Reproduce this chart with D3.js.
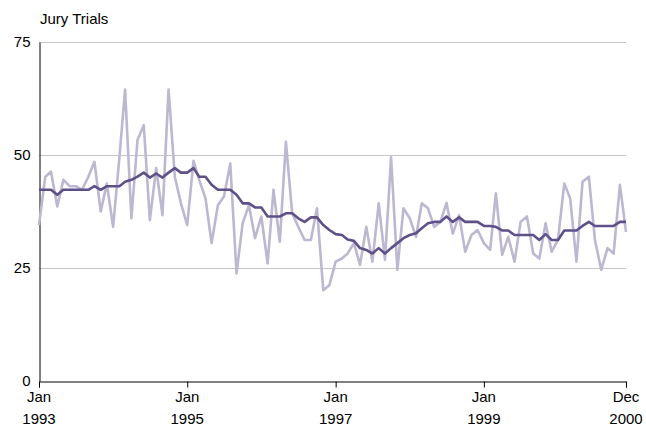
<!DOCTYPE html>
<html><head><meta charset="utf-8">
<script src="https://cdn.jsdelivr.net/npm/d3@7"></script>
<style>body{margin:0;background:#fff}svg{display:block}text{font-family:"Liberation Sans",Arial,sans-serif}</style>
</head><body><svg id="c" width="646" height="431"></svg>
<script>
const title = "Jury Trials";
const startYear = 1993, startMonth = 0, nMonths = 96;
const rawValues = [34.5,45.2,46.3,38.6,44.5,43.1,43.1,42.3,45.2,48.5,37.5,43.7,34.1,49.5,64.5,36.0,53.3,56.6,35.6,47.1,36.7,64.5,45.2,39.3,
34.5,48.7,44.5,40.4,30.5,38.9,40.8,48.1,23.8,34.9,38.9,31.6,36.4,26.0,42.3,30.8,52.9,37.1,34.1,31.2,31.2,38.2,20.1,21.2,
26.4,27.1,28.2,30.5,25.7,34.1,26.4,39.3,26.8,49.5,24.6,38.2,36.0,31.9,39.3,38.2,34.1,35.2,39.4,32.6,36.7,28.6,32.3,33.4,
30.5,29.0,41.5,27.9,31.9,26.4,35.2,36.4,28.2,27.1,34.9,28.6,31.2,43.7,40.4,26.4,44.1,45.2,31.2,24.6,29.4,28.2,43.4,33.0];
const smoothValues = [42.3,42.3,42.3,41.2,42.3,42.3,42.3,42.3,42.3,43.1,42.3,43.1,43.1,43.1,44.1,44.5,45.2,46.1,45.0,45.9,45.0,46.1,47.1,46.1,
46.1,47.1,45.2,45.2,43.4,42.3,42.3,42.3,41.2,39.3,39.3,38.4,38.4,36.4,36.4,36.4,37.1,37.1,36.0,35.2,36.2,36.2,34.5,33.4,
32.5,32.3,31.3,31.0,29.4,29.0,28.2,29.4,28.2,29.4,30.5,31.6,32.3,32.7,33.8,34.9,35.2,35.2,36.4,35.2,36.2,35.2,35.2,35.2,
34.3,34.3,34.1,33.3,33.3,32.3,32.3,32.3,32.3,31.2,32.5,31.2,31.2,33.3,33.3,33.3,34.3,35.2,34.3,34.3,34.3,34.3,35.2,35.2];
const yTicks = [0,25,50,75];
const xTickIdx = [0,24,48,72,95];
const xTickLabels = [["Jan","1993"],["Jan","1995"],["Jan","1997"],["Jan","1999"],["Dec","2000"]];

const dates = d3.range(nMonths).map(i => new Date(startYear, startMonth + i, 1));
const svg = d3.select("#c");
const m = {l:39, r:20, t:42, b:50};
const W = 646, H = 431;
const x = d3.scaleTime().domain([dates[0], dates[nMonths-1]]).range([m.l, W - m.r]);
const y = d3.scaleLinear().domain([0,75]).range([H - m.b, m.t]);

// gridlines
svg.append("g").selectAll("line").data(yTicks.filter(d=>d>0)).join("line")
  .attr("x1", m.l).attr("x2", W - m.r)
  .attr("y1", d => Math.round(y(d)) + 0.5).attr("y2", d => Math.round(y(d)) + 0.5)
  .attr("stroke", "#c6c6c6").attr("stroke-width", 1);

// y axis
const ya = d3.axisLeft(y).tickValues(yTicks).tickSize(0).tickPadding(9);
const yg = svg.append("g").attr("transform", `translate(${m.l + 0.5},0)`).call(ya);
yg.select(".domain").attr("stroke", "#000");
yg.selectAll("text").attr("font-size", 15).attr("fill", "#000");

// x axis
const xa = d3.axisBottom(x).tickValues(xTickIdx.map(i => dates[i])).tickSize(6).tickFormat("");
const xg = svg.append("g").attr("transform", `translate(0,${Math.round(y(0)) + 0.5})`).call(xa);
xg.select(".domain").attr("stroke", "#000");
xg.selectAll(".tick line").attr("stroke", "#000");
xTickIdx.forEach((idx, k) => {
  const t = svg.append("text").attr("x", x(dates[idx])).attr("y", y(0) + 21)
    .attr("text-anchor", "middle").attr("font-size", 15).attr("fill", "#000");
  t.append("tspan").attr("x", x(dates[idx])).text(xTickLabels[k][0]);
  t.append("tspan").attr("x", x(dates[idx])).attr("dy", 22).text(xTickLabels[k][1]);
});

// lines
const line = vals => d3.line().x((d,i) => x(dates[i])).y(d => y(d))(vals);
svg.append("path").attr("d", line(rawValues)).attr("fill", "none")
  .attr("stroke", "#bdb7d1").attr("stroke-width", 2.6).attr("stroke-linejoin", "round");
svg.append("path").attr("d", line(smoothValues)).attr("fill", "none")
  .attr("stroke", "#5f5089").attr("stroke-width", 2.6).attr("stroke-linejoin", "round");

// title
svg.append("text").attr("x", 40).attr("y", 24).attr("font-size", 15).attr("fill", "#000").text(title);
</script></body></html>
